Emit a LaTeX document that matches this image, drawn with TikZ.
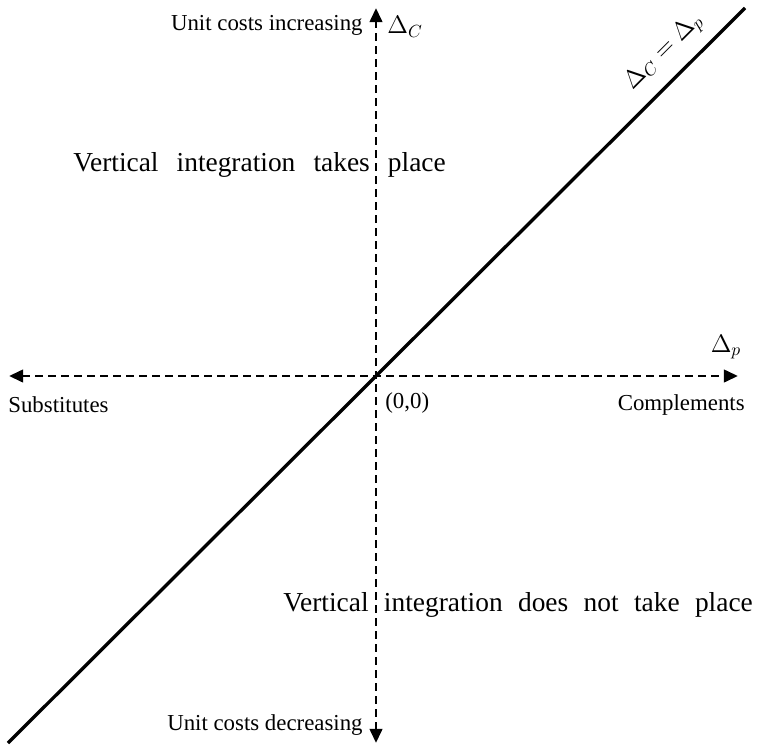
\documentclass[tikz,border=0pt]{standalone}
\usepackage{amsmath}
\usepackage{fontspec}
\setmainfont{Liberation Serif}
\usetikzlibrary{positioning,arrows.meta}
\tikzset{
  axisline/.style={line width=1.7pt, dash pattern=on 4.2pt off 3.2pt,
                   {Triangle[length=8pt,width=7pt]}-{Triangle[length=8pt,width=7pt]}},
  diagline/.style={line width=1.9pt},
  lab/.style ={inner sep=0pt, font=\fontsize{13}{15}\selectfont},
  mlab/.style={inner sep=0pt, font=\fontsize{14.5}{16}\selectfont},
  region/.style={inner sep=0pt, font=\fontsize{15.6}{18}\selectfont},
}
% the region texts are set with wide word gaps
\newcommand{\widewords}[2]{{\spaceskip=#1\relax #2}}

\begin{document}
\begin{tikzpicture}[x=0.02cm,y=0.02cm]
  \useasboundingbox (-376,-371) rectangle (383,376);
  % axis ends and the origin
  \coordinate (O) at (0,0);
  \coordinate (xl) at (-367,0);
  \coordinate (xr) at (362,0);
  \coordinate (yt) at (0,368);
  \coordinate (yb) at (0,-367);
  \coordinate (dl) at (-368,-367);
  \coordinate (dr) at (369,368);
  \draw[axisline] (xl) -- (xr);
  \draw[axisline] (yb) -- (yt);
  \draw[diagline] (dl) -- (dr);
  % labels
  \node[lab, anchor=east] (incr) at (-13,351) {Unit costs increasing};
  \node[mlab, anchor=west] (dC) at (11,349) {$\Delta_C$};
  \node[lab, anchor=east] (decr) at (-13,-349) {Unit costs decreasing};
  \node[lab, anchor=west] (subs) at (-368,-29) {Substitutes};
  \node[lab, anchor=east] (comp) at (369,-29) {Complements};
  \node[lab, anchor=west] (orig) at (9,-27) {(0,0)};
  \node[mlab] (dp) at (350,29) {$\Delta_p$};
  \node[mlab, rotate=45] (eq) at (288,324) {$\Delta_C=\Delta_p$};
  \node[region, anchor=west] (vi) at (-303,211)
    {\widewords{0.66em}{Vertical integration takes place}};
  \node[region, anchor=west] (novi) at (-93,-229)
    {\widewords{0.56em}{Vertical integration does not take place}};
\end{tikzpicture}
\end{document}
